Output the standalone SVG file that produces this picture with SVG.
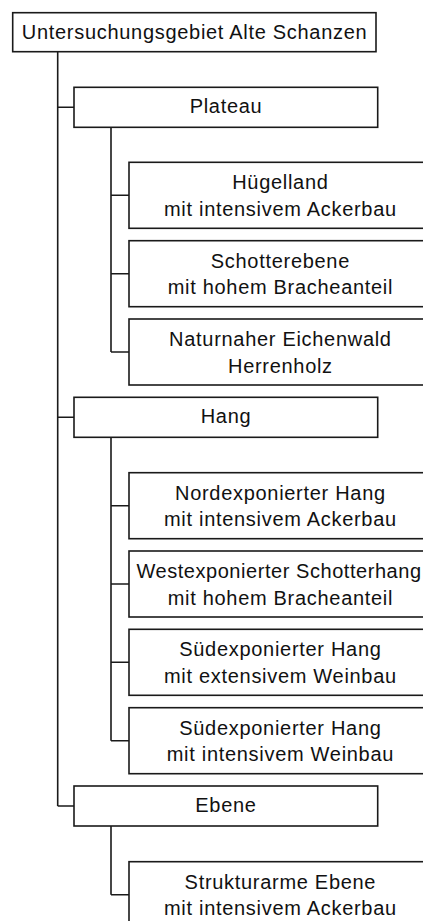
<svg xmlns="http://www.w3.org/2000/svg" width="423" height="921" viewBox="0 0 423 921">
<style>
rect{fill:#fff;stroke:#1a1a1a;stroke-width:1.6}
.c{fill:none;stroke:#1a1a1a;stroke-width:1.6}
text{font-family:"Liberation Sans",Arial,sans-serif;font-size:20px;letter-spacing:0.7px;fill:#111;text-anchor:middle}
</style>
<rect x="0" y="0" width="423" height="921" style="stroke:none"/>
<g id="connectors" class="c">
<path class="c" d="M57.7 51.7V806M57.7 107.3H74M57.7 417.3H74M57.7 806H74"/>
<path class="c" d="M111 127.3V352M111 195.3H129M111 273.7H129M111 352H129"/>
<path class="c" d="M111 437.3V740.7M111 505.7H129M111 584H129M111 662.3H129M111 740.7H129"/>
<path class="c" d="M111 826V894.7M111 894.7H129"/>
</g>
<g id="root"><rect x="12.7" y="12.7" width="363.3" height="39"/><text x="194.6" y="38.7">Untersuchungsgebiet Alte Schanzen</text></g>
<g id="plateau"><rect x="74" y="87.3" width="303.7" height="40"/><text x="226" y="113.3">Plateau</text></g>
<g id="huegelland"><rect x="129" y="162.3" width="302" height="66"/><text x="280.4" y="189.3">Hügelland</text><text x="280.4" y="216">mit intensivem Ackerbau</text></g>
<g id="schotterebene"><rect x="129" y="240.7" width="302" height="66"/><text x="280.4" y="267.7">Schotterebene</text><text x="280.4" y="294.4">mit hohem Bracheanteil</text></g>
<g id="eichenwald"><rect x="129" y="319" width="302" height="66"/><text x="280.4" y="346">Naturnaher Eichenwald</text><text x="280.4" y="372.7">Herrenholz</text></g>
<g id="hang"><rect x="74" y="397.3" width="303.7" height="40"/><text x="226" y="423.3">Hang</text></g>
<g id="nordhang"><rect x="129" y="472.7" width="302" height="66"/><text x="280.4" y="499.7">Nordexponierter Hang</text><text x="280.4" y="526.4">mit intensivem Ackerbau</text></g>
<g id="westhang"><rect x="129" y="551" width="302" height="66"/><text x="279" y="578" style="letter-spacing:0.55px">Westexponierter Schotterhang</text><text x="280.4" y="604.7">mit hohem Bracheanteil</text></g>
<g id="suedhang-ext"><rect x="129" y="629.3" width="302" height="66"/><text x="280.4" y="656.3">Südexponierter Hang</text><text x="280.4" y="683">mit extensivem Weinbau</text></g>
<g id="suedhang-int"><rect x="129" y="707.7" width="302" height="66"/><text x="280.4" y="734.7">Südexponierter Hang</text><text x="280.4" y="761.4">mit intensivem Weinbau</text></g>
<g id="ebene"><rect x="74" y="786" width="303.7" height="40"/><text x="226" y="812">Ebene</text></g>
<g id="strukturarme-ebene"><rect x="129" y="861.7" width="302" height="66"/><text x="280.4" y="888.7">Strukturarme Ebene</text><text x="280.4" y="915.4">mit intensivem Ackerbau</text></g>
</svg>
